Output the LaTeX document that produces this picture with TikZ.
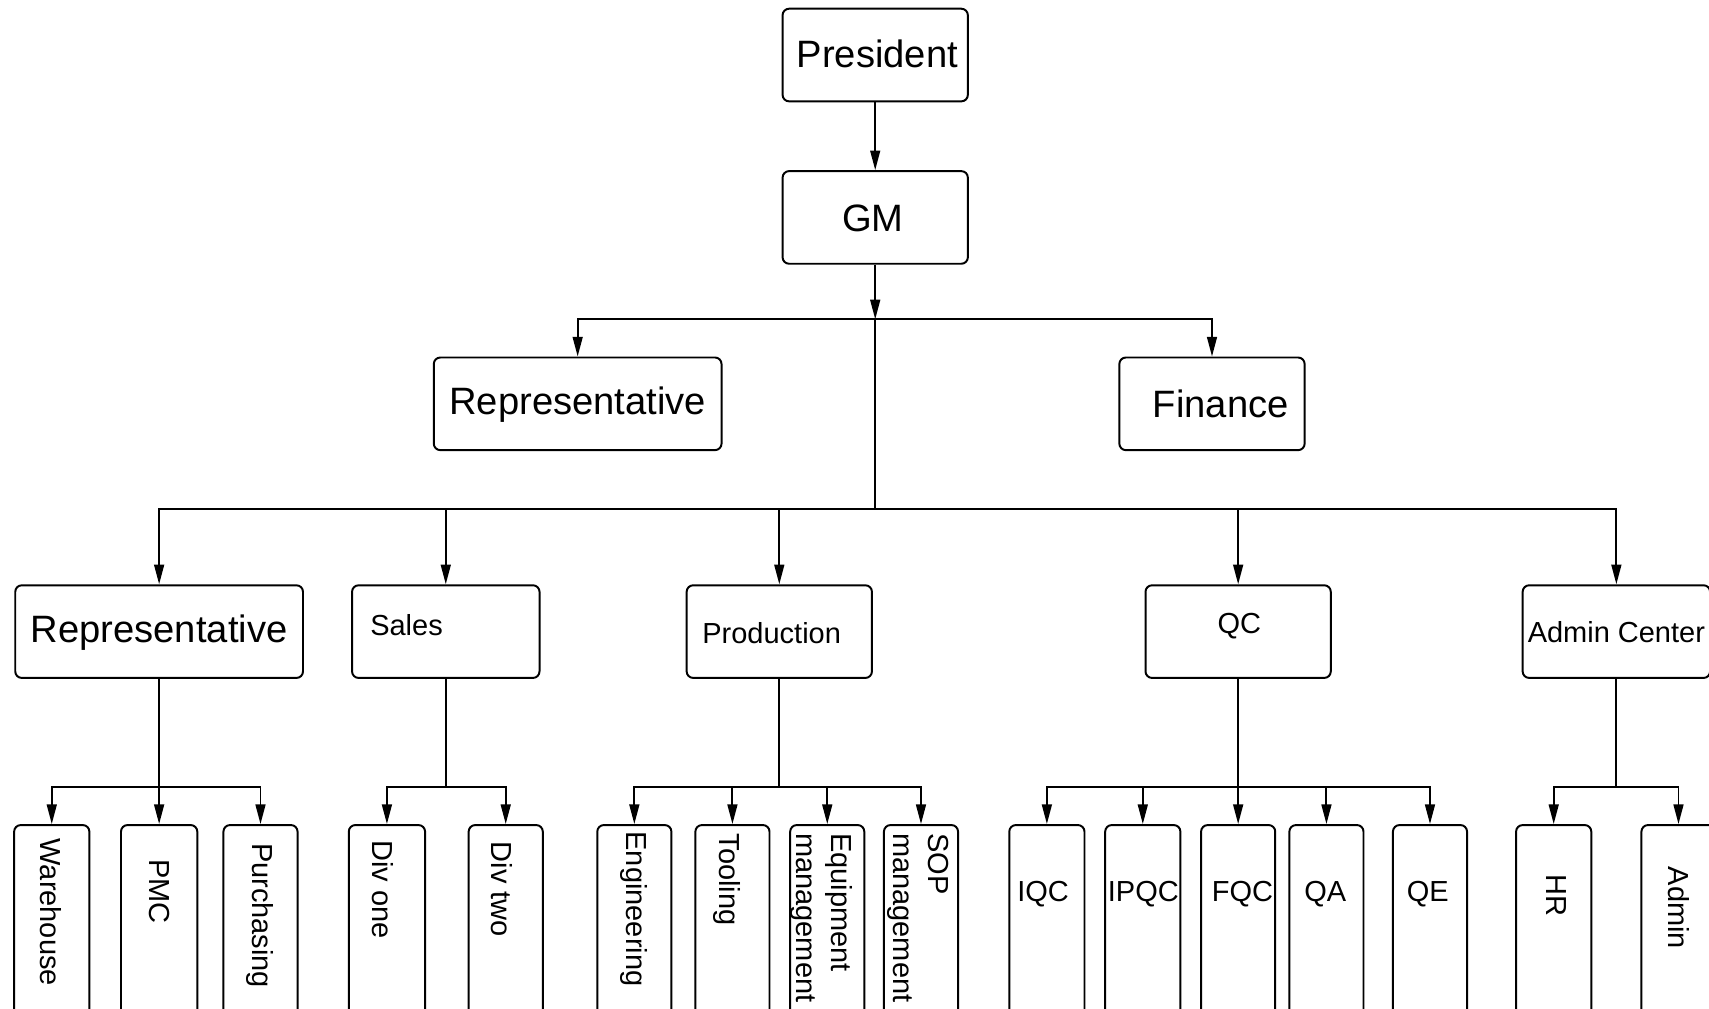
\documentclass[tikz,border=0pt]{standalone}
\usepackage{fontspec}
\setmainfont{Liberation Sans}
\usetikzlibrary{arrows.meta}
\newcommand{\orgbox}[5]{\node[box, minimum width={(#4-#2)*0.5pt}, minimum height={(#5-#3)*0.5pt}] (#1) at ({(#2+#4)/2},{(#3+#5)/2}) {};}
\begin{document}
\begin{tikzpicture}[x=0.5pt,y=-0.5pt,
  box/.style={draw, rounded corners=3pt, line width=0.9pt, inner sep=0pt},
  big/.style={font=\fontsize{17.5}{21}\selectfont, inner sep=0pt},
  mid/.style={font=\fontsize{13.3}{16}\selectfont, inner sep=0pt},
  vt/.style={mid, rotate=-90, align=left},
  ln/.style={line width=0.9pt},
  arr/.style={ln, -{Triangle[length=9pt,width=4.5pt]}}
]
\useasboundingbox (0,0) rectangle (1568,925);

% top levels
\orgbox{pres}{718}{8}{888}{93}
\orgbox{gm}{718}{157}{888}{242}
\orgbox{rep1}{398}{328}{662}{413}
\orgbox{fin}{1027}{328}{1197}{413}
\node[big] (tpres) at (805,49) {President};
\node[big] (tgm) at (801,200) {GM};
\node[big] (trep1) at (530,371) {Representative};
\node[big] (tfin) at (1120,371) {Finance};

% second level
\orgbox{rep2}{14}{537}{278}{622}
\orgbox{sales}{323}{537}{495}{622}
\orgbox{prod}{630}{537}{800}{622}
\orgbox{qc}{1051}{537}{1221}{622}
\orgbox{adm}{1397}{537}{1569}{622}
\node[big] (trep2) at (146,580) {Representative};
\node[mid] (tsales) at (373,574) {Sales};
\node[mid] (tprod) at (708,581) {Production};
\node[mid] (tqc) at (1137,574) {QC};
\node[mid] (tadm) at (1483,580) {Admin Center};

% bottom level
\orgbox{wh}{13}{757}{82}{935}
\orgbox{pmc}{111}{757}{181}{935}
\orgbox{pur}{205}{757}{273}{935}
\orgbox{div1}{320}{757}{390}{935}
\orgbox{div2}{430}{757}{498}{935}
\orgbox{eng}{548}{757}{616}{935}
\orgbox{tool}{638}{757}{706}{935}
\orgbox{equ}{725}{757}{793}{935}
\orgbox{sop}{811}{757}{879}{935}
\orgbox{iqc}{926}{757}{995}{935}
\orgbox{ipqc}{1014}{757}{1083}{935}
\orgbox{fqc}{1102}{757}{1170}{935}
\orgbox{qa}{1183}{757}{1251}{935}
\orgbox{qe}{1278}{757}{1346}{935}
\orgbox{hr}{1391}{757}{1460}{935}
\orgbox{admin}{1506}{757}{1574}{935}

\node[vt] (twh) at (47,837) {Warehouse};
\node[vt] (tpmc) at (146,818) {PMC};
\node[vt] (tpur) at (239,840) {Purchasing};
\node[vt] (tdiv1) at (351,816) {Div one};
\node[vt] (tdiv2) at (460,816) {Div two};
\node[vt] (teng) at (582,834) {Engineering};
\node[vt] (ttool) at (667,807) {Tooling};
\node[vt] (tequ) at (754,842) {Equipment\\management};
\node[vt] (tsop) at (842,842) {SOP\\management};
\node[mid] (tiqc) at (957,820) {IQC};
\node[mid] (tipqc) at (1049,820) {IPQC};
\node[mid] (tfqc) at (1140,820) {FQC};
\node[mid] (tqa) at (1216,820) {QA};
\node[mid] (tqe) at (1310,820) {QE};
\node[vt] (thr) at (1428,822) {HR};
\node[vt] (tadmin) at (1540,833) {Admin};

% connectors
\coordinate (j1) at (803,293);
\coordinate (j2) at (803,467);
\draw[arr] (pres) -- (gm);
\draw[arr] (gm) -- (j1);
\draw[arr] (j1) -| (rep1);
\draw[arr] (j1) -| (fin);
\draw[ln] (j1) -- (j2);
\draw[arr] (j2) -| (rep2);
\draw[arr] (j2) -| (sales);
\draw[arr] (j2) -| (prod);
\draw[arr] (j2) -| (qc);
\draw[arr] (j2) -| (adm);

\coordinate (k1) at (146,722);
\draw[ln] (rep2) -- (k1);
\draw[arr] (k1) -| (wh);
\draw[arr] (k1) -- (pmc);
\draw[arr] (k1) -| (pur);

\coordinate (k2) at (409,722);
\draw[ln] (sales) -- (k2);
\draw[arr] (k2) -| (div1);
\draw[arr] (k2) -| (div2);

\coordinate (k3) at (715,722);
\draw[ln] (prod) -- (k3);
\draw[arr] (k3) -| (eng);
\draw[arr] (k3) -| (tool);
\draw[arr] (k3) -| (equ);
\draw[arr] (k3) -| (sop);

\coordinate (k4) at (1136,722);
\draw[ln] (qc) -- (k4);
\draw[arr] (k4) -| (iqc);
\draw[arr] (k4) -| (ipqc);
\draw[arr] (k4) -- (fqc);
\draw[arr] (k4) -| (qa);
\draw[arr] (k4) -| (qe);

\coordinate (k5) at (1483,722);
\draw[ln] (adm) -- (k5);
\draw[arr] (k5) -| (hr);
\draw[arr] (k5) -| (admin);
\end{tikzpicture}
\end{document}
